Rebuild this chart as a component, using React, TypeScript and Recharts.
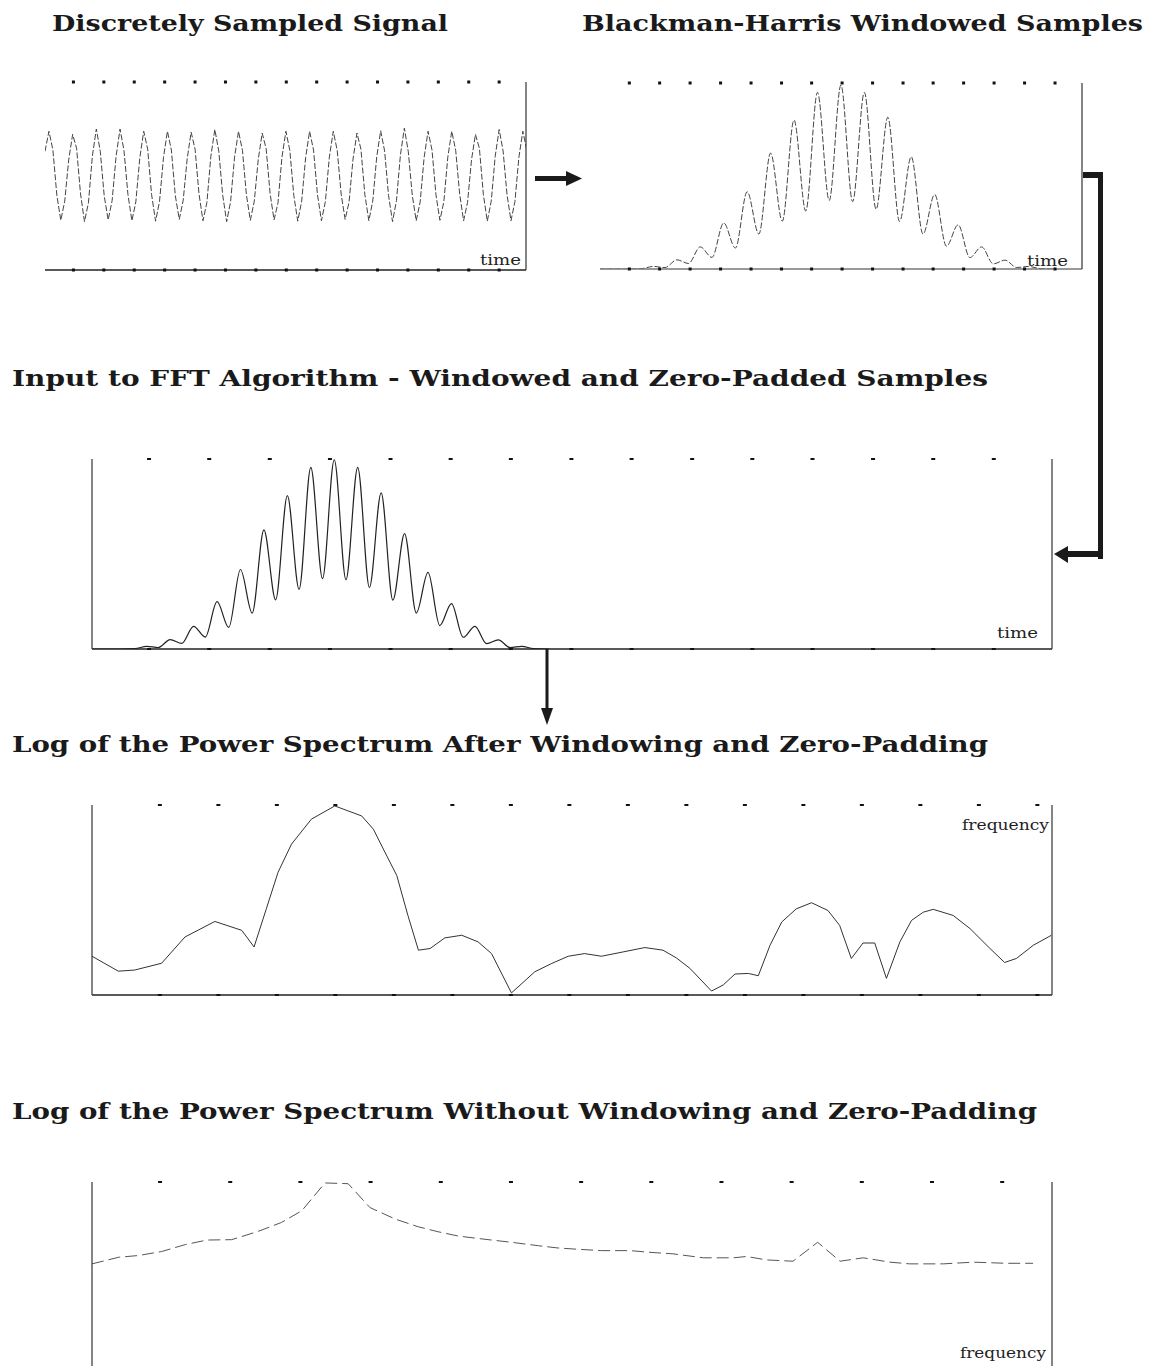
import React from "react";
import { LineChart, Line, XAxis, YAxis } from "recharts";

// Panel 1: discretely sampled sinusoid, one value per sample index
const signalValues: number[] = [
  0.55, 1.0, 0.58, -0.43, -0.99, -0.56,
  0.36, 0.93, 0.62, -0.4, -1.02, -0.6,
  0.45, 1.05, 0.55, -0.45, -0.98, -0.55,
  0.44, 1.05, 0.57, -0.41, -1.0, -0.58,
  0.4, 1.0, 0.6, -0.42, -1.01, -0.57,
  0.41, 1.0, 0.58, -0.44, -0.97, -0.54,
  0.38, 0.98, 0.6, -0.4, -1.0, -0.59,
  0.44, 1.04, 0.56, -0.43, -1.02, -0.57,
  0.42, 1.0, 0.57, -0.42, -0.99, -0.56,
  0.37, 0.96, 0.61, -0.39, -0.98, -0.6,
  0.42, 1.0, 0.57, -0.43, -1.01, -0.56,
  0.41, 1.0, 0.58, -0.42, -1.0, -0.57,
  0.42, 1.0, 0.57, -0.41, -0.97, -0.58,
  0.38, 0.96, 0.6, -0.42, -1.0, -0.56,
  0.43, 1.01, 0.56, -0.44, -1.02, -0.55,
  0.47, 1.07, 0.54, -0.43, -1.0, -0.58,
  0.41, 1.0, 0.58, -0.42, -0.99, -0.57,
  0.42, 1.0, 0.57, -0.4, -1.0, -0.59,
  0.36, 0.93, 0.62, -0.41, -1.01, -0.56,
  0.44, 1.04, 0.56, -0.42, -1.0, -0.57,
  0.42, 1.0, 0.58,
];
const signalTicks: number[] = [7.2, 14.9, 22.6, 30.3, 38.0, 45.7, 53.4, 61.1, 68.8, 76.5, 84.2, 91.9, 99.6, 107.3, 115.0];

// Panels 2 and 3: Blackman-Harris windowed samples (sample index, amplitude)
const windowN: number[] = [
  -7, 0, 4, 7, 10, 13, 16, 19, 22, 25, 28, 31, 34, 37, 40, 43, 46, 49, 52,
  55, 58, 61, 64, 67, 70, 73, 76, 79, 82, 85, 88, 91, 94, 97, 100, 103, 106, 110,
];
const windowV: number[] = [
  0, 0, 0.002, 0.014, 0.008, 0.05, 0.03, 0.12, 0.063, 0.25, 0.114, 0.42, 0.19, 0.63, 0.26, 0.81, 0.315, 0.96, 0.372,
  1.0, 0.366, 0.96, 0.325, 0.825, 0.258, 0.61, 0.19, 0.405, 0.124, 0.24, 0.062, 0.12, 0.028, 0.048, 0.008, 0.014, 0.002, 0,
];
const windowTicks: number[] = [0.85, 8.6, 16.4, 24.2, 32.0, 39.8, 47.5, 55.3, 63.1, 70.9, 78.6, 86.4, 94.2, 102.0, 109.8];
const paddedTicks: number[] = [7.6, 23.0, 38.5, 53.9, 69.4, 84.8, 100.2, 115.7, 131.1, 146.6, 162.0, 177.4, 192.9, 208.3, 223.8];

// Panel 4: log power spectrum after windowing and zero-padding (bin, dB)
const padFreq: number[] = [
  -0.16, 0.29, 0.57, 1.03, 1.43, 1.94, 2.4, 2.61, 2.82, 3.02, 3.25, 3.59, 3.99, 4.45, 4.65, 4.82, 5.05, 5.24, 5.42,
  5.62, 5.87, 6.16, 6.44, 6.67, 7.01, 7.41, 7.7, 7.98, 8.26, 8.55, 8.92, 9.29, 9.6, 9.83, 10.06, 10.43, 10.63,
  10.83, 11.06, 11.23, 11.43, 11.63, 11.88, 12.14, 12.42, 12.62, 12.82, 13.02, 13.22, 13.42, 13.65, 13.85,
  14.05, 14.22, 14.56, 14.85, 15.19, 15.44, 15.64, 15.93, 16.24,
];
const padDb: number[] = [
  -79.5, -87.4, -86.8, -83.2, -69.3, -61.1, -65.8, -74.6, -54.4, -35.1, -20.2, -7.0, 0, -5.3, -12.3, -22.8, -36.8, -57.9, -76.3,
  -75.4, -69.8, -68.4, -71.9, -78.1, -98.9, -87.7, -83.3, -79.5, -78.1, -79.5, -77.2, -74.9, -76.3, -80.4, -85.9, -97.9, -94.7,
  -88.9, -88.6, -89.8, -73.7, -61.4, -54.4, -51.2, -55.3, -63.2, -80.7, -72.5, -72.5, -91.2, -71.9, -60.5,
  -56.2, -54.7, -57.9, -64.9, -75.4, -82.8, -80.7, -73.7, -68.4,
];
const padTicks: number[] = [1, 2, 3, 4, 5, 6, 7, 8, 9, 10, 11, 12, 13, 14, 15, 16];

// Panel 5: log power spectrum without windowing (bin, dB)
const rawFreq: number[] = [
  0.03, 0.41, 0.69, 1.02, 1.36, 1.67, 2.02, 2.4, 2.73, 3.02, 3.35, 3.68, 3.99, 4.35, 4.68, 4.96, 5.25, 5.63,
  6.01, 6.39, 6.67, 6.96, 7.29, 7.7, 7.98, 8.31, 8.74, 9.17, 9.36, 9.64, 10.02, 10.37, 10.69, 11.02, 11.4,
  11.68, 12.16, 12.59, 13.06, 13.44,
];
const rawDb: number[] = [
  -42.8, -39.3, -38.4, -36.3, -32.6, -30.2, -30.0, -25.6, -20.9, -14.7, 0, -0.4, -13.0, -19.1, -23.2, -25.8, -28.1, -29.8,
  -31.4, -33.2, -34.4, -35.1, -35.8, -35.8, -36.7, -37.5, -39.6, -39.6, -38.9, -40.7, -41.4, -31.4, -41.4, -39.6, -41.9,
  -42.8, -42.8, -41.9, -42.5, -42.5,
];
const rawTicks: number[] = [1, 2, 3, 4, 5, 6, 7, 8, 9, 10, 11, 12, 13];

type Pt = { x: number; y: number };

// space kept round every plot area; each axis takes 1px of it
const M = 6;

const makeDot = (w: number, h: number) => (props: any) => (
  <rect x={props.x - w / 2} y={props.y - h / 2} width={w} height={h} fill="#111" />
);

type PanelProps = {
  left: number;
  top: number;
  width: number;
  height: number;
  data: Pt[];
  xDomain: [number, number];
  yDomain: [number, number];
  ticks: number[];
  leftLine?: boolean;
  bottomLine?: boolean;
  bottomStroke?: string;
  curve?: "linear" | "monotone";
  stroke: string;
  strokeWidth: number;
  dash?: string;
  dotW: number;
  dotH: number;
};

const Panel: React.FC<PanelProps> = (p) => {
  const dot = makeDot(p.dotW, p.dotH);
  const showBottom = p.bottomLine !== false;
  return (
    <div style={{ position: "absolute", left: p.left - M, top: p.top - M }}>
      <LineChart
        width={p.width + 2 * M}
        height={p.height + 2 * M}
        data={p.data}
        margin={{ top: M - 1, right: M - 1, bottom: M - 1, left: M - 1 }}
      >
        <XAxis
          xAxisId="b"
          type="number"
          dataKey="x"
          domain={p.xDomain}
          allowDataOverflow
          ticks={p.ticks}
          interval={0}
          height={1}
          tickSize={0}
          tickMargin={0}
          tickLine={false}
          tick={showBottom ? dot : false}
          axisLine={showBottom ? { stroke: p.bottomStroke ?? "#222", strokeWidth: 1.5 } : false}
        />
        <XAxis
          xAxisId="t"
          orientation="top"
          type="number"
          dataKey="x"
          domain={p.xDomain}
          allowDataOverflow
          ticks={p.ticks}
          interval={0}
          height={1}
          tickSize={0}
          tickMargin={0}
          tickLine={false}
          tick={dot}
          axisLine={false}
        />
        <YAxis
          yAxisId="r"
          orientation="right"
          type="number"
          domain={p.yDomain}
          allowDataOverflow
          width={1}
          tick={false}
          tickLine={false}
          axisLine={{ stroke: "#333", strokeWidth: 1.2 }}
        />
        <YAxis
          yAxisId="l"
          orientation="left"
          type="number"
          domain={p.yDomain}
          allowDataOverflow
          width={1}
          tick={false}
          tickLine={false}
          axisLine={p.leftLine ? { stroke: "#333", strokeWidth: 1.2 } : false}
        />
        <Line
          xAxisId="b"
          yAxisId="r"
          type={p.curve ?? "linear"}
          dataKey="y"
          stroke={p.stroke}
          strokeWidth={p.strokeWidth}
          strokeDasharray={p.dash}
          dot={false}
          activeDot={false}
          isAnimationActive={false}
        />
      </LineChart>
    </div>
  );
};

const Title: React.FC<{ x: number; y: number; w: number; children: string }> = ({ x, y, w, children }) => (
  <text
    x={x}
    y={y}
    textLength={w}
    lengthAdjust="spacingAndGlyphs"
    fontFamily="'DejaVu Serif', serif"
    fontWeight="bold"
    fontSize={23}
    fill="#1a1a1a"
  >
    {children}
  </text>
);

const AxisName: React.FC<{ x: number; y: number; w: number; children: string }> = ({ x, y, w, children }) => (
  <text
    x={x}
    y={y}
    textLength={w}
    lengthAdjust="spacingAndGlyphs"
    fontFamily="'DejaVu Serif', serif"
    fontSize={15}
    fill="#222"
  >
    {children}
  </text>
);

export default function App() {
  const signalData: Pt[] = signalValues.map((v, i) => ({ x: i, y: v }));
  const windowData: Pt[] = windowN.map((n, i) => ({ x: n, y: windowV[i] }));
  const padData: Pt[] = padFreq.map((f, i) => ({ x: f, y: padDb[i] }));
  const rawData: Pt[] = rawFreq.map((f, i) => ({ x: f, y: rawDb[i] }));

  return (
    <div
      style={{
        position: "absolute",
        left: 0,
        top: 0,
        width: 1153,
        height: 1366,
        overflow: "hidden",
        background: "#fff",
      }}
    >
      <Panel
        left={45}
        top={82}
        width={481}
        height={188}
        data={signalData}
        xDomain={[0, 121.8]}
        yDomain={[-2.1, 2.1]}
        ticks={signalTicks}
        stroke="#444"
        strokeWidth={1}
        dash="6 2"
        dotW={3}
        dotH={3}
      />
      <Panel
        left={600}
        top={83}
        width={482}
        height={186}
        data={windowData}
        xDomain={[-6.66, 116.7]}
        yDomain={[0, 1.011]}
        ticks={windowTicks}
        bottomStroke="#777"
        curve="monotone"
        stroke="#444"
        strokeWidth={1}
        dash="6 2"
        dotW={3}
        dotH={3}
      />
      <Panel
        left={92}
        top={459}
        width={960}
        height={190}
        data={windowData}
        xDomain={[-7, 238.7]}
        yDomain={[0, 1.004]}
        ticks={paddedTicks}
        leftLine
        curve="monotone"
        stroke="#222"
        strokeWidth={1.2}
        dotW={4}
        dotH={2}
      />
      <Panel
        left={92}
        top={805}
        width={960}
        height={190}
        data={padData}
        xDomain={[-0.16, 16.25]}
        yDomain={[-100, 0.5]}
        ticks={padTicks}
        leftLine
        stroke="#333"
        strokeWidth={1}
        dotW={4}
        dotH={2}
      />
      <Panel
        left={92}
        top={1182}
        width={960}
        height={190}
        data={rawData}
        xDomain={[0.03, 13.71]}
        yDomain={[-100, 0.5]}
        ticks={rawTicks}
        leftLine
        bottomLine={false}
        stroke="#555"
        strokeWidth={1}
        dash="12 5"
        dotW={4}
        dotH={2}
      />

      <svg
        width={1153}
        height={1366}
        style={{ position: "absolute", left: 0, top: 0, pointerEvents: "none" }}
      >
        <Title x={52} y={31} w={396}>Discretely Sampled Signal</Title>
        <Title x={582} y={31} w={561}>Blackman-Harris Windowed Samples</Title>
        <Title x={12} y={386} w={976}>Input to FFT Algorithm - Windowed and Zero-Padded Samples</Title>
        <Title x={12} y={752} w={976}>Log of the Power Spectrum After Windowing and Zero-Padding</Title>
        <Title x={12} y={1119} w={1025}>Log of the Power Spectrum Without Windowing and Zero-Padding</Title>

        <AxisName x={480} y={265} w={41}>time</AxisName>
        <AxisName x={1027} y={266} w={41}>time</AxisName>
        <AxisName x={997} y={638} w={41}>time</AxisName>
        <AxisName x={962} y={830} w={87}>frequency</AxisName>
        <AxisName x={960} y={1358} w={86}>frequency</AxisName>

        {/* arrow between the top panels */}
        <rect x={535} y={176} width={33} height={5} fill="#1a1a1a" />
        <polygon points="566,171 582,178.5 566,186" fill="#1a1a1a" />

        {/* bracket arrow from windowed samples to FFT input */}
        <rect x={1083} y={172} width={20} height={6} fill="#1a1a1a" />
        <rect x={1098} y={172} width={5} height={387} fill="#1a1a1a" />
        <rect x={1066} y={551} width={37} height={6} fill="#1a1a1a" />
        <polygon points="1054,554 1068,546 1068,563" fill="#1a1a1a" />

        {/* arrow from FFT input down to the spectrum */}
        <rect x={545.5} y={649} width={3} height={62} fill="#1a1a1a" />
        <polygon points="541,708 553,708 547,725" fill="#1a1a1a" />
      </svg>
    </div>
  );
}
